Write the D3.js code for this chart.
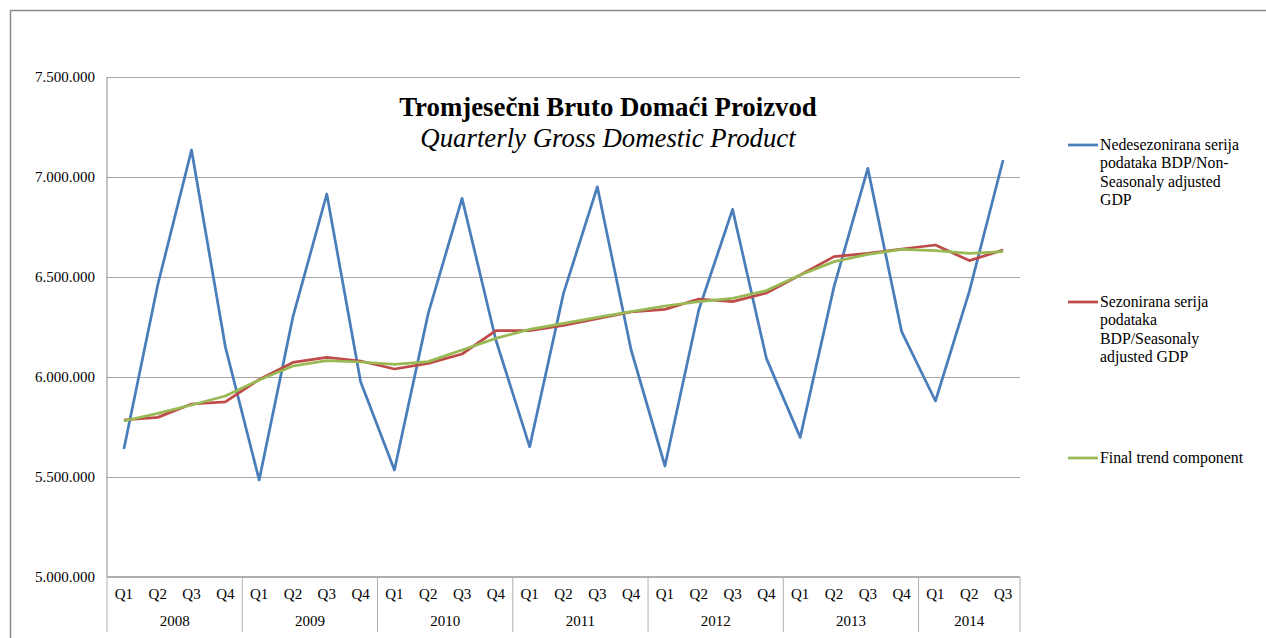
<!DOCTYPE html>
<html>
<head>
<meta charset="utf-8">
<script src="https://cdn.jsdelivr.net/npm/d3@7/dist/d3.min.js"></script>
<style>
  body { margin: 0; background: #fff; }
  text { font-family: "Liberation Serif", "Times New Roman", serif; fill: #000; }
</style>
</head>
<body>
<svg width="1266" height="638"></svg>
<script>
// ---- donnees ----
const years = ["2008", "2009", "2010", "2011", "2012", "2013", "2014"];
const quarters = ["Q1", "Q2", "Q3", "Q4"];
const yTicks = [5000000, 5500000, 6000000, 6500000, 7000000, 7500000];

// Nedesezonirana serija (non-seasonally adjusted)
const nonSeasonal = [
  5640000, 6460000, 7135000, 6151000,
  5485000, 6302000, 6915000, 5976000,
  5535000, 6318000, 6893000, 6185000,
  5651000, 6418000, 6951000, 6135000,
  5555000, 6335000, 6838000, 6093000,
  5698000, 6452000, 7043000, 6227000,
  5880000, 6427000, 7085000
];
// Sezonirana serija (seasonally adjusted)
const seasonal = [
  5785000, 5798000, 5865000, 5876000,
  5988000, 6073000, 6098000, 6080000,
  6040000, 6068000, 6115000, 6232000,
  6232000, 6258000, 6292000, 6325000,
  6338000, 6390000, 6377000, 6420000,
  6510000, 6602000, 6618000, 6640000,
  6660000, 6582000, 6635000
];
// Final trend component
const trend = [
  5780000, 5818000, 5860000, 5905000,
  5985000, 6055000, 6082000, 6075000,
  6063000, 6077000, 6135000, 6193000,
  6238000, 6268000, 6298000, 6327000,
  6355000, 6377000, 6393000, 6432000,
  6510000, 6577000, 6613000, 6638000,
  6632000, 6618000, 6627000
];

const seriesNames = [
  ["Nedesezonirana serija", "podataka BDP/Non-", "Seasonaly adjusted", "GDP"],
  ["Sezonirana serija", "podataka", "BDP/Seasonaly", "adjusted GDP"],
  ["Final trend component"]
];
const colors = ["#4a7ebb", "#be4b48", "#98b954"];

// categories : 2008 Q1 ... 2014 Q3
const cats = [];
years.forEach((yr) => quarters.forEach((q) => cats.push({ year: yr, q: q, key: yr + " " + q })));
cats.length = nonSeasonal.length;

/*----------- dimensions -----------*/
const margin = { top: 77, left: 107 };
const width = 1020 - margin.left;
const height = 577 - margin.top;

const svg = d3.select("svg");
svg.append("rect").attr("width", 1266).attr("height", 638).attr("fill", "#fff");
// cadre du graphique
svg.append("rect")
  .attr("x", 10.5).attr("y", 10.5)
  .attr("width", 1300).attr("height", 700)
  .attr("fill", "none").attr("stroke", "#8a8a8a").attr("stroke-width", 1.5);

const x = d3.scaleBand().domain(cats.map((d) => d.key)).range([0, width]);
const y = d3.scaleLinear().domain([5000000, 7500000]).range([height, 0]);

const chart = svg.append("g").attr("transform", "translate(" + margin.left + "," + margin.top + ")");

const loc = d3.formatLocale({ decimal: ",", thousands: ".", grouping: [3], currency: ["", ""] });
const fmt = loc.format(",d");

// grille
const grid = chart.append("g")
  .call(d3.axisLeft(y).tickValues(yTicks).tickSize(-width).tickFormat(""));
grid.select(".domain").remove();
grid.selectAll("line").attr("stroke", "#a6a6a6").attr("stroke-width", 1);

// labels axe y
const yAxis = chart.append("g")
  .call(d3.axisLeft(y).tickValues(yTicks).tickSize(0).tickPadding(12).tickFormat(fmt));
yAxis.select(".domain").remove();
yAxis.selectAll("text")
  .style("font-family", "Liberation Serif, serif").style("font-size", "15px").attr("fill", "#000");

// ligne verticale gauche
chart.append("line")
  .attr("x1", 0).attr("x2", 0).attr("y1", 0).attr("y2", height)
  .attr("stroke", "#8a8a8a").attr("stroke-width", 1);

// axe x (deux niveaux)
const xAxis = chart.append("g").attr("transform", "translate(0," + height + ")");
xAxis.append("line").attr("x1", 0).attr("x2", width)
  .attr("stroke", "#b0b0b0").attr("stroke-width", 2);
xAxis.selectAll(".ql").data(cats).enter().append("text")
  .attr("class", "ql")
  .attr("x", (d) => x(d.key) + x.bandwidth() / 2)
  .attr("y", 22)
  .attr("text-anchor", "middle")
  .style("font-size", "15px")
  .text((d) => d.q);

const groups = years.map((yr) => {
  const cs = cats.filter((c) => c.year === yr);
  return { year: yr, x0: x(cs[0].key), x1: x(cs[cs.length - 1].key) + x.bandwidth() };
});
xAxis.selectAll(".yl").data(groups).enter().append("text")
  .attr("class", "yl")
  .attr("x", (d) => (d.x0 + d.x1) / 2)
  .attr("y", 49)
  .attr("text-anchor", "middle")
  .style("font-size", "15px")
  .text((d) => d.year);
const seps = [0].concat(groups.map((g) => g.x1));
xAxis.selectAll(".sep").data(seps).enter().append("line")
  .attr("x1", (d) => d).attr("x2", (d) => d)
  .attr("y1", 0).attr("y2", 55)
  .attr("stroke", "#b0b0b0").attr("stroke-width", 1);

// courbes
const line = d3.line()
  .x((d, i) => x(cats[i].key) + x.bandwidth() / 2)
  .y((d) => y(d));

[nonSeasonal, seasonal, trend].forEach((s, i) => {
  chart.append("path")
    .datum(s)
    .attr("fill", "none")
    .attr("stroke", colors[i])
    .attr("stroke-width", 2.75)
    .attr("stroke-linejoin", "round")
    .attr("d", line);
});

// titre
svg.append("text")
  .attr("x", 608).attr("y", 116)
  .attr("text-anchor", "middle")
  .style("font-size", "26.8px").style("font-weight", "bold")
  .text("Tromjesečni Bruto Domaći Proizvod");
svg.append("text")
  .attr("x", 608).attr("y", 147)
  .attr("text-anchor", "middle")
  .style("font-size", "26.8px").style("font-style", "italic")
  .text("Quarterly Gross Domestic Product");

// legende
const legendY = [145, 302, 458];
const leg = svg.selectAll(".leg").data(seriesNames).enter().append("g")
  .attr("transform", (d, i) => "translate(1068," + legendY[i] + ")");
leg.append("line").attr("x1", 0).attr("x2", 30)
  .attr("stroke", (d, i) => colors[i]).attr("stroke-width", 2.75);
leg.append("text")
  .attr("x", 32).attr("y", 5)
  .style("font-size", "15.8px")
  .selectAll("tspan").data((d) => d).enter().append("tspan")
  .attr("x", 32)
  .attr("dy", (d, i) => (i === 0 ? 0 : 18.3))
  .text((d) => d);
</script>
</body>
</html>
